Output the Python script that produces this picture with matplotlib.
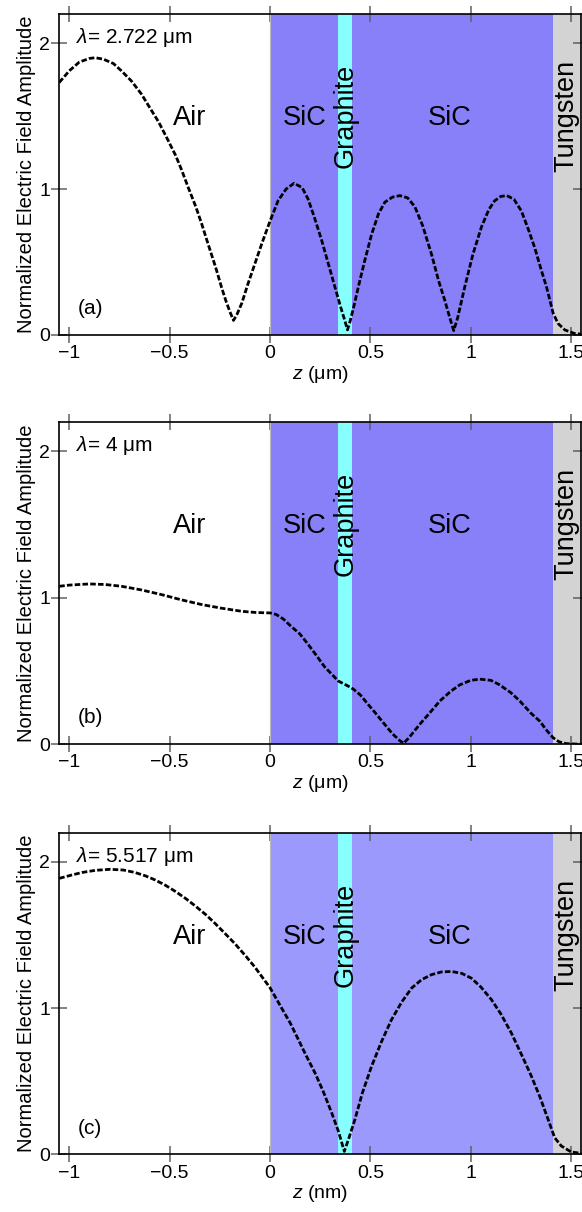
import numpy as np
import matplotlib.pyplot as plt

plt.rcParams['font.family'] = ['Liberation Sans', 'DejaVu Sans']
plt.rcParams['mathtext.fontset'] = 'custom'
plt.rcParams['mathtext.rm'] = 'Liberation Sans'
plt.rcParams['mathtext.it'] = 'Liberation Sans:italic'

# field amplitude
z_a = [-1.05, -1.0, -0.95, -0.9, -0.87, -0.83, -0.78, -0.74, -0.69, -0.64, -0.6, -0.555,
       -0.51, -0.47, -0.44, -0.41, -0.37, -0.34, -0.31, -0.27, -0.24, -0.22, -0.2, -0.182,
       -0.165, -0.14, -0.11, -0.075, -0.04, 0.0,
       0.04, 0.08, 0.12, 0.16, 0.19, 0.22, 0.257, 0.29, 0.323, 0.35, 0.37, 0.386, 0.40,
       0.42, 0.44, 0.47, 0.506, 0.54, 0.572, 0.61, 0.647, 0.685, 0.721, 0.76, 0.804, 0.84,
       0.871, 0.895, 0.915, 0.935, 0.97, 1.01, 1.053, 1.09, 1.119, 1.15, 1.18, 1.215,
       1.252, 1.285, 1.318, 1.35, 1.377, 1.41, 1.434, 1.468, 1.517, 1.56]
E_a = [1.73, 1.81, 1.87, 1.895, 1.90, 1.89, 1.86, 1.81, 1.74, 1.65, 1.56, 1.46,
       1.34, 1.23, 1.13, 1.02, 0.88, 0.76, 0.63, 0.46, 0.32, 0.235, 0.16, 0.10,
       0.14, 0.22, 0.35, 0.49, 0.63, 0.78,
       0.92, 1.00, 1.04, 1.01, 0.93, 0.81, 0.65, 0.49, 0.33, 0.20, 0.11, 0.035, 0.10,
       0.21, 0.33, 0.50, 0.69, 0.83, 0.91, 0.945, 0.955, 0.94, 0.88, 0.75, 0.555, 0.37,
       0.235, 0.12, 0.03, 0.12, 0.33, 0.55, 0.74, 0.86, 0.92, 0.95, 0.955, 0.93,
       0.85, 0.73, 0.60, 0.45, 0.33, 0.15, 0.08, 0.035, 0.01, 0.005]

z_b = [-1.05, -1.0, -0.9, -0.82, -0.74, -0.64, -0.54, -0.44, -0.34, -0.24, -0.14, -0.07,
       0.0, 0.03, 0.066, 0.1, 0.149, 0.19, 0.232, 0.27, 0.315, 0.34, 0.365, 0.39, 0.415,
       0.45, 0.481, 0.52, 0.564, 0.61, 0.645, 0.665, 0.69, 0.746, 0.8, 0.846, 0.9, 0.945,
       1.0, 1.045, 1.1, 1.144, 1.2, 1.244, 1.3, 1.343, 1.38, 1.41, 1.44, 1.476, 1.52, 1.56]
E_b = [1.077, 1.085, 1.093, 1.089, 1.077, 1.052, 1.02, 0.984, 0.952, 0.927, 0.906, 0.898,
       0.895, 0.885, 0.854, 0.81, 0.751, 0.68, 0.603, 0.53, 0.466, 0.43, 0.413, 0.395, 0.375,
       0.335, 0.283, 0.22, 0.146, 0.07, 0.025, 0.005, 0.04, 0.135, 0.22, 0.294, 0.36, 0.404,
       0.435, 0.443, 0.435, 0.404, 0.35, 0.294, 0.21, 0.157, 0.09, 0.043, 0.015, 0.003, 0.0, 0.0]

z_c = [-1.05, -0.99, -0.937, -0.87, -0.796, -0.73, -0.672, -0.62, -0.572, -0.52, -0.473,
       -0.42, -0.373, -0.32, -0.274, -0.22, -0.174, -0.12, -0.075, -0.035, 0.0, 0.058, 0.1,
       0.141, 0.18, 0.224, 0.265, 0.307, 0.34, 0.37, 0.395, 0.423, 0.46, 0.506, 0.555, 0.605,
       0.655, 0.705, 0.755, 0.804, 0.855, 0.904, 0.955, 1.003, 1.05, 1.103, 1.15, 1.202,
       1.25, 1.302, 1.345, 1.385, 1.418, 1.451, 1.5, 1.56]
E_c = [1.888, 1.91, 1.928, 1.943, 1.95, 1.945, 1.928, 1.905, 1.877, 1.84, 1.80,
       1.75, 1.70, 1.64, 1.58, 1.505, 1.44, 1.355, 1.28, 1.205, 1.14, 1.0, 0.9,
       0.785, 0.675, 0.557, 0.43, 0.284, 0.16, 0.02, 0.12, 0.239, 0.42, 0.603, 0.77, 0.921,
       1.04, 1.137, 1.195, 1.229, 1.248, 1.251, 1.238, 1.205, 1.145, 1.058, 0.96, 0.83,
       0.69, 0.534, 0.39, 0.239, 0.113, 0.057, 0.016, 0.005]

panels = ['(a)', '(b)', '(c)']
wavelengths = ['2.722', '4', '5.517']
x_units = ['μm', 'μm', 'nm']
sic_colors = ['#8880F8', '#8880F8', '#9C99FC']

# layer boundaries (μm)
sic1 = (0.0, 0.34)
graphite = (0.34, 0.41)
sic2 = (0.41, 1.41)
tungsten = (1.41, 1.7)

xticks = [-1, -0.5, 0, 0.5, 1, 1.5]
xticklabels = ['\u22121', '\u22120.5', '0', '0.5', '1', '1.5']
yticks = [0, 1, 2]

fig = plt.figure(figsize=(5.82, 12.12), dpi=100)
positions = [[0.1014, 0.7236, 0.8969, 0.2649],
             [0.1014, 0.3861, 0.8969, 0.2659],
             [0.1014, 0.0476, 0.8969, 0.2653]]
data = [(z_a, E_a), (z_b, E_b), (z_c, E_c)]

for i in range(3):
    ax = fig.add_axes(positions[i])
    ax.axvspan(*sic1, color=sic_colors[i], lw=0)
    ax.axvspan(*sic2, color=sic_colors[i], lw=0)
    ax.axvspan(*graphite, color='#88FFFF', lw=0)
    ax.axvspan(*tungsten, color='#D3D3D3', lw=0)
    ax.axvline(0, color='#BBBBBB', lw=0.8)

    z, E = data[i]
    ax.plot(z, E, color='black', lw=2.0, dashes=(2.0, 0.8))

    ax.set_xlim(-1.051, 1.549)
    ax.set_ylim(0, 2.2)
    ax.set_xticks(xticks)
    ax.set_xticklabels(xticklabels)
    ax.set_yticks(yticks)
    ax.tick_params(direction='inout', length=11, width=1.1, color='#606060',
                   top=True, right=True, labelsize=14)
    ax.tick_params(axis='x', pad=2)
    ax.tick_params(axis='y', pad=1)
    for s in ax.spines.values():
        s.set_linewidth(1.2)

    ax.set_xlabel(r'$z$ (' + x_units[i] + ')', fontsize=14, labelpad=1)
    ax.set_ylabel('Normalized Electric Field Amplitude', fontsize=14.5, labelpad=2)

    ax.text(-0.967, 2.04, r'$\lambda$= ' + wavelengths[i] + ' μm', fontsize=15,
            ha='left', va='center')
    ax.text(-0.957, 0.18, panels[i], fontsize=15, ha='left', va='center')
    ax.text(-0.40, 1.49, 'Air', fontsize=19.5, ha='center', va='center')
    ax.text(0.174, 1.49, 'SiC', fontsize=19.5, ha='center', va='center')
    ax.text(0.896, 1.49, 'SiC', fontsize=19.5, ha='center', va='center')
    ax.text(0.378, 1.50, 'Graphite', fontsize=19.5, ha='center', va='center', rotation=90)
    ax.text(1.478, 1.50, 'Tungsten', fontsize=19.5, ha='center', va='center', rotation=90)

fig.savefig('out.png', dpi=100)
